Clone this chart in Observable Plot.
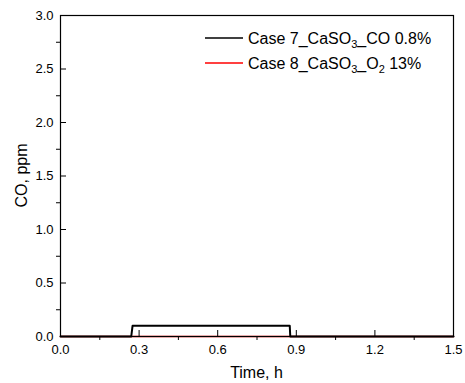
<!DOCTYPE html>
<html>
<head>
<meta charset="utf-8">
<script src="https://cdn.jsdelivr.net/npm/d3@7"></script>
<script src="https://cdn.jsdelivr.net/npm/@observablehq/plot@0.6"></script>
<style>
  html, body { margin: 0; padding: 0; background: #fff; }
  svg { font-family: "Liberation Sans", Arial, sans-serif; }
</style>
</head>
<body>
<div id="chart"></div>
<script>
// Data
const case7Time = [0, 0.27, 0.275, 0.875, 0.877, 1.5];
const case7CO   = [0, 0, 0.1, 0.1, 0, 0];
const case8Time = [0, 1.5];
const case8CO   = [0, 0];

const xMajor = [0, 0.3, 0.6, 0.9, 1.2, 1.5];
const xMinor = [0.15, 0.45, 0.75, 1.05, 1.35];
const yMajor = [0, 0.5, 1.0, 1.5, 2.0, 2.5, 3.0];
const yMinor = [0.25, 0.75, 1.25, 1.75, 2.25, 2.75];

const seriesNames = ["Case 7_CaSO|3|_CO 0.8%", "Case 8_CaSO|3|_O|2| 13%"];
const seriesColors = ["#000000", "#ff0000"];

const case7 = case7Time.map((t, i) => ({t, v: case7CO[i]}));
const case8 = case8Time.map((t, i) => ({t, v: case8CO[i]}));

const W = 465, H = 383;
const mL = 60, mR = 12, mT = 15, mB = 47;
const pw = W - mL - mR, ph = H - mT - mB;

const chart = Plot.plot({
  width: W,
  height: H,
  marginLeft: mL,
  marginRight: mR,
  marginTop: mT,
  marginBottom: mB,
  style: {fontFamily: "Liberation Sans, Arial, sans-serif", fontSize: "13px", color: "#000", background: "#fff"},
  x: {domain: [0, 1.5]},
  y: {domain: [0, 3]},
  marks: [
    Plot.line(case8, {x: "t", y: "v", stroke: seriesColors[1], strokeWidth: 1.5}),
    Plot.line(case7, {x: "t", y: "v", stroke: seriesColors[0], strokeWidth: 2}),
    // major labels
    Plot.axisX({ticks: xMajor, tickSize: 0, tickPadding: 8, tickFormat: d3.format(".1f"), fontSize: 13, label: null}),
    Plot.axisY({ticks: yMajor, tickSize: 0, tickPadding: 7, tickFormat: d3.format(".1f"), fontSize: 13, label: null}),
    // minor ticks outside
    Plot.axisX({ticks: xMinor, tickSize: 4, text: null, label: null, strokeWidth: 1}),
    Plot.axisY({ticks: yMinor, tickSize: 4, text: null, label: null, strokeWidth: 1}),
    // major ticks inside
    Plot.tickX(xMajor, {x: d => d, insetTop: ph - 6, stroke: "black", strokeWidth: 1}),
    Plot.tickY(yMajor, {y: d => d, insetRight: pw - 6, stroke: "black", strokeWidth: 1}),
    Plot.frame({stroke: "black", strokeWidth: 1.2})
  ]
});

const svg = d3.select(chart);

// axis titles
svg.append("text")
  .attr("x", mL + pw / 2).attr("y", 378)
  .attr("text-anchor", "middle")
  .attr("font-size", 16).attr("fill", "#000")
  .text("Time, h");
svg.append("text")
  .attr("transform", `translate(27, ${mT + ph / 2}) rotate(-90)`)
  .attr("text-anchor", "middle")
  .attr("font-size", 16).attr("fill", "#000")
  .text("CO, ppm");

// legend
const lg = svg.append("g").attr("font-size", 16).attr("fill", "#000").attr("text-anchor", "start");
seriesNames.forEach((name, i) => {
  const y = 38 + i * 25;
  lg.append("line").attr("x1", 205).attr("x2", 243).attr("y1", y).attr("y2", y)
    .attr("stroke", seriesColors[i]).attr("stroke-width", 1.5);
  const t = lg.append("text").attr("x", 248).attr("y", y + 6).attr("text-anchor", "start");
  name.split("|").forEach((part, j) => {
    if (j % 2 === 1) {
      t.append("tspan").attr("font-size", 11).attr("dy", 4).text(part);
    } else {
      const ts = t.append("tspan").text(part);
      if (j > 0) ts.attr("dy", -4);
    }
  });
});

document.getElementById("chart").appendChild(chart);
</script>
</body>
</html>
